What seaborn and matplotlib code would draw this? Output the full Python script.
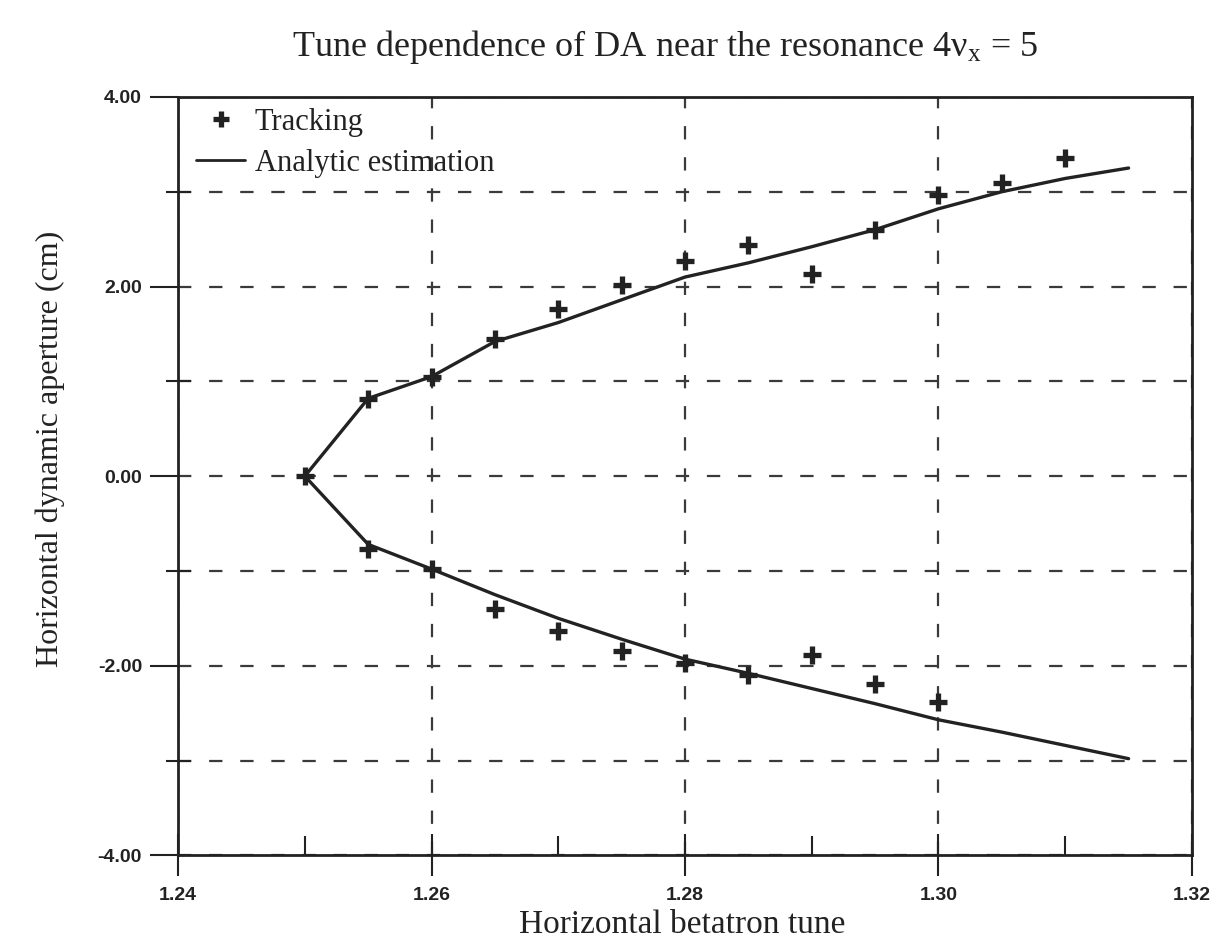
import numpy as np
import pandas as pd
import matplotlib
matplotlib.use("Agg")
import matplotlib.pyplot as plt
from matplotlib.ticker import MultipleLocator, FormatStrFormatter
from matplotlib.lines import Line2D
import seaborn as sns

# analytic estimation, upper and lower branches (tune, aperture in cm)
tune_upper = [1.250, 1.255, 1.260, 1.265, 1.270, 1.275, 1.280, 1.285, 1.290, 1.295, 1.300, 1.305, 1.310, 1.315]
da_upper = [0.00, 0.82, 1.05, 1.42, 1.62, 1.86, 2.10, 2.25, 2.42, 2.60, 2.82, 3.00, 3.14, 3.25]
tune_lower = [1.250, 1.255, 1.260, 1.265, 1.270, 1.275, 1.280, 1.285, 1.290, 1.295, 1.300, 1.305, 1.310, 1.315]
da_lower = [0.00, -0.72, -0.98, -1.25, -1.50, -1.72, -1.93, -2.08, -2.24, -2.40, -2.57, -2.70, -2.84, -2.98]

# tracking results
track_tune = [1.250,
              1.255, 1.260, 1.265, 1.270, 1.275, 1.280, 1.285, 1.290, 1.295, 1.300, 1.305, 1.310,
              1.255, 1.260, 1.265, 1.270, 1.275, 1.280, 1.285, 1.290, 1.295, 1.300]
track_da = [0.00,
            0.81, 1.05, 1.45, 1.76, 2.02, 2.27, 2.44, 2.13, 2.60, 2.97, 3.09, 3.36,
            -0.77, -0.98, -1.40, -1.63, -1.84, -1.97, -2.10, -1.89, -2.19, -2.38]

xticks = [1.24, 1.26, 1.28, 1.30, 1.32]
yticks = [-4, -2, 0, 2, 4]

ink = "#222222"

sns.set_theme(style="white")
plt.rcParams["font.family"] = ["Liberation Serif", "DejaVu Serif"]
plt.rcParams["axes.unicode_minus"] = False

# one polyline: lower branch reversed, then upper branch
curve = pd.DataFrame({
    "tune": tune_lower[::-1] + tune_upper[1:],
    "da": da_lower[::-1] + da_upper[1:],
})
track = pd.DataFrame({"tune": track_tune, "da": track_da})

fig = plt.figure(figsize=(12.2, 9.41), dpi=100)
ax = fig.add_axes([0.146, 0.091, 0.831, 0.806])

sns.lineplot(data=curve, x="tune", y="da", sort=False, estimator=None,
             color=ink, linewidth=2.4, ax=ax)
sns.scatterplot(data=track, x="tune", y="da", marker="+", s=150,
                linewidth=3.8, color=ink, ax=ax, zorder=5)

ax.set_xlim(1.24, 1.32)
ax.set_ylim(-4, 4)
ax.set_xticks(xticks)
ax.set_yticks(yticks)
ax.xaxis.set_minor_locator(MultipleLocator(0.01))
ax.yaxis.set_minor_locator(MultipleLocator(1))
ax.xaxis.set_major_formatter(FormatStrFormatter("%.2f"))
ax.yaxis.set_major_formatter(FormatStrFormatter("%.2f"))

# dashed grid: x only at major ticks, y at every centimetre
grid_kw = dict(linestyle=(0, (6, 8)), color="#3a3a3a", linewidth=1.6)
ax.grid(True, axis="x", which="major", **grid_kw)
ax.grid(True, axis="y", which="both", **grid_kw)
ax.set_axisbelow(True)

for s in ax.spines.values():
    s.set_color(ink)
    s.set_linewidth(2)

ax.tick_params(axis="x", which="major", bottom=True, direction="inout", length=30,
               width=1.5, color=ink, pad=8)
ax.tick_params(axis="x", which="minor", bottom=True, direction="in", length=14,
               width=1.5, color=ink)
ax.tick_params(axis="y", which="major", left=True, direction="out", length=20,
               width=1.5, color=ink, pad=6)
ax.tick_params(axis="y", which="minor", left=True, direction="inout", length=18,
               width=1.5, color=ink)
for lab in ax.get_xticklabels() + ax.get_yticklabels():
    lab.set_family("Liberation Sans")
    lab.set_fontweight("bold")
    lab.set_fontsize(14)
    lab.set_color(ink)

ax.set_xlabel("Horizontal betatron tune", fontsize=24, color=ink)
ax.xaxis.set_label_coords(0.497, -0.072)
ax.set_ylabel("Horizontal dynamic aperture (cm)", fontsize=23, color=ink)
ax.yaxis.set_label_coords(-0.112, 0.536)
fig.suptitle(r"Tune dependence of DA near the resonance 4$\mathregular{\nu_x}$ = 5",
             fontsize=26, color=ink, x=0.545, y=0.97)

handles = [
    Line2D([], [], marker="+", linestyle="none", markersize=11, markeredgewidth=3.8, color=ink),
    Line2D([], [], color=ink, linewidth=2),
]
ax.legend(handles, ["Tracking", "Analytic estimation"], loc="upper left",
          frameon=False, fontsize=22, handlelength=1.6, handletextpad=0.3,
          labelspacing=0.4, borderaxespad=0.2, bbox_to_anchor=(0.0, 1.01),
          labelcolor=ink)

fig.savefig("out.png", dpi=100, facecolor="white")
